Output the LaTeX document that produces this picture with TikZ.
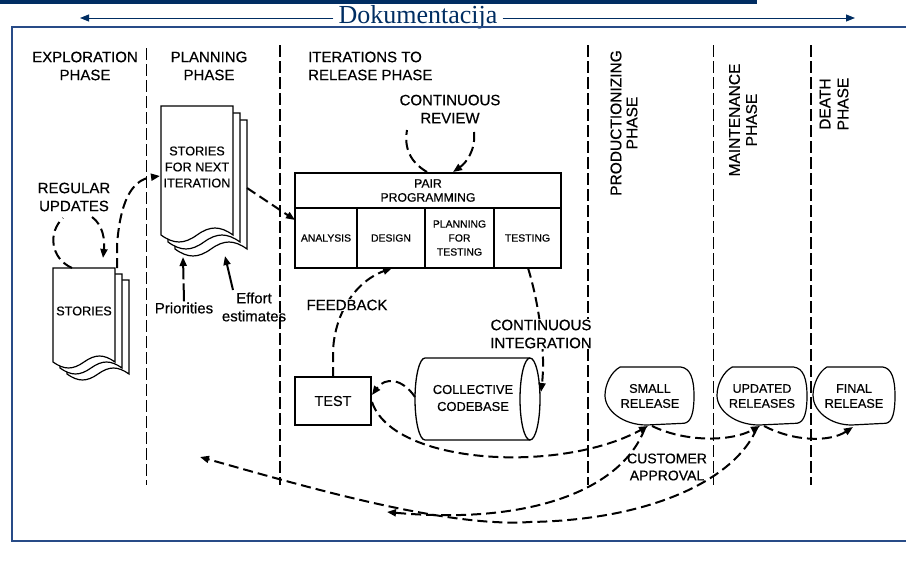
\documentclass[tikz,border=0pt]{standalone}
\usepackage{fontspec}
\setmainfont{Liberation Serif}
\setsansfont{Liberation Sans}[FakeBold=0.5]
\usetikzlibrary{arrows.meta}

\definecolor{navy}{RGB}{0,45,98}
\definecolor{framecol}{RGB}{40,75,135}

% one sheet of a document stack: x0, y0, width, height, wave amplitude
\newcommand\docpage[5]{%
  \filldraw[fill=white, draw=black, line width=1.2pt]
    (#1,#2) -- ({#1+#3},#2) -- ({#1+#3},{#2+#4})
    .. controls ({#1+0.82*#3},{#2+#4-1.33*#5}) and ({#1+0.68*#3},{#2+#4-1.33*#5}) .. ({#1+0.5*#3},{#2+#4})
    .. controls ({#1+0.32*#3},{#2+#4+1.33*#5}) and ({#1+0.18*#3},{#2+#4+1.33*#5}) .. (#1,{#2+#4}) -- cycle;}

% release blob: x0, y0, width, height
\newcommand\releaseblob[4]{%
  \filldraw[fill=white, draw=black, line width=1.2pt]
    ({#1+0.17*#3},#2) -- ({#1+0.85*#3},#2)
    .. controls ({#1+0.96*#3},{#2+0.02*#4}) and ({#1+#3},{#2+0.2*#4}) .. ({#1+#3},{#2+0.5*#4})
    .. controls ({#1+#3},{#2+0.78*#4}) and ({#1+0.97*#3},{#2+0.95*#4}) .. ({#1+0.89*#3},{#2+0.97*#4})
    -- ({#1+0.47*#3},{#2+#4})
    .. controls ({#1+0.2*#3},{#2+#4}) and (#1,{#2+0.75*#4}) .. (#1,{#2+0.49*#4})
    .. controls (#1,{#2+0.3*#4}) and ({#1+0.07*#3},{#2+0.08*#4}) .. ({#1+0.17*#3},#2) -- cycle;}

\begin{document}
\begin{tikzpicture}[x=1pt,y=-1pt,
  lbl/.style={font=\sffamily\fontsize{15}{18}\selectfont, align=center, inner sep=1pt},
  doctext/.style={font=\sffamily\fontsize{12.7}{16}\selectfont, align=center, inner sep=0pt},
  cell/.style={draw, line width=1.6pt, outer sep=0pt, font=\sffamily\fontsize{10.4}{14}\selectfont,
               align=center, inner sep=0pt, anchor=north west, minimum height=60pt},
  thin div/.style={line width=1pt, dash pattern=on 12pt off 4pt},
  thick div/.style={line width=2.2pt, dash pattern=on 12pt off 4pt},
  flow/.style={line width=2pt, dash pattern=on 10pt off 5pt, -{Triangle[length=9pt,width=7pt]}},
  solidflow/.style={line width=2pt, -{Triangle[length=9pt,width=7pt]}},
  navyarrow/.style={navy, line width=1pt, -{Triangle[length=9pt,width=7pt]}},
  blank/.style={fill=white}]
\useasboundingbox (0,0) rectangle (906,565);

% header bar and documentation span
\fill[navy] (0,0) rectangle (757,4);
\node[font=\fontsize{26}{28}\selectfont, text=navy, inner xsep=5pt, inner ysep=2pt] (dok) at (418,17) {Dokumentacija};
\coordinate (dokL) at (80,18);
\coordinate (dokR) at (855,18);
\draw[navyarrow] (dok.west |- dokL) -- (dokL);
\draw[navyarrow] (dok.east |- dokR) -- (dokR);

% frame
\draw[framecol, line width=1.3pt] (906,27) -- (12,27) -- (12,541) -- (906,541);

% phase dividers
\draw[thin div]  (146,48) -- (146,485);
\draw[thick div] (280,45) -- (280,485);
\draw[thick div] (588,45) -- (588,485);
\draw[thin div]  (713,45) -- (713,485);
\draw[thick div] (811,45) -- (811,485);

% phase titles
\node[lbl] (ph1) at (85,66) {EXPLORATION\\PHASE};
\node[lbl] (ph2) at (209,66) {PLANNING\\PHASE};
\node[lbl, align=left, anchor=west] (ph3) at (307,66) {ITERATIONS TO\\RELEASE PHASE};
\node[lbl, rotate=90, font=\sffamily\fontsize{15.5}{16}\selectfont] (ph4) at (624,123) {PRODUCTIONIZING\\PHASE};
\node[lbl, rotate=90, font=\sffamily\fontsize{15.5}{17}\selectfont] (ph5) at (743,120) {MAINTENANCE\\PHASE};
\node[lbl, rotate=90, font=\sffamily\fontsize{15.5}{18}\selectfont] (ph6) at (834,104) {DEATH\\PHASE};

% story stacks
\docpage{67}{280}{62}{94}{6}
\docpage{60}{274}{62}{94}{6}
\docpage{53}{268}{62}{94}{6}
\node[doctext] (stories) at (84,311) {STORIES};

\docpage{175}{120}{72}{129}{7}
\docpage{168}{113}{72}{129}{7}
\docpage{161}{106}{72}{129}{7}
\node[doctext] (nextit) at (197,167) {STORIES\\FOR NEXT\\ITERATION};

% pair programming block
\node[cell, minimum width=266pt, minimum height=35pt, font=\sffamily\fontsize{12.2}{14}\selectfont] (pp) at (295,173) {PAIR\\PROGRAMMING};
\node[cell, minimum width=62pt] (analysis) at (295,208) {ANALYSIS};
\node[cell, minimum width=68pt] (design) at (357,208) {DESIGN};
\node[cell, minimum width=69pt] (pft) at (425,208) {PLANNING\\FOR\\TESTING};
\node[cell, minimum width=67pt] (testing) at (494,208) {TESTING};

% test box
\node[draw, line width=1.5pt, outer sep=0pt, minimum width=76pt, minimum height=48pt,
      font=\sffamily\fontsize{14.4}{17}\selectfont] (test) at (333,401) {TEST};

% collective codebase cylinder
\filldraw[fill=white, line width=1.3pt] (425,358) -- (530,358)
  arc[start angle=-90, end angle=90, x radius=10, y radius=41] -- (425,440)
  arc[start angle=90, end angle=270, x radius=10, y radius=41] -- cycle;
\draw[line width=1.3pt] (530,358) arc[start angle=-90, end angle=-270, x radius=10, y radius=41];
\node[doctext, font=\sffamily\fontsize{12.9}{17}\selectfont] (cb) at (473,398) {COLLECTIVE\\CODEBASE};
\coordinate (cbW) at (415,397);
\coordinate (cbE) at (541,392);

% releases
\releaseblob{605}{367}{89}{58}
\node[doctext, font=\sffamily\fontsize{12.7}{15}\selectfont] (small) at (650,396) {SMALL\\RELEASE};
\releaseblob{717}{367}{90}{58}
\node[doctext, font=\sffamily\fontsize{12.5}{15}\selectfont] (upd) at (762,396) {UPDATED\\RELEASES};
\releaseblob{813}{367}{82}{58}
\node[doctext, font=\sffamily\fontsize{12.7}{15}\selectfont] (final) at (854,396) {FINAL\\RELEASE};

% connector end points
\coordinate (storiesTopL) at (72,268);
\coordinate (storiesIn) at (103,258);
\coordinate (storiesTopR) at (117,268);
\coordinate (nextIn) at (160,176);
\coordinate (nextOut) at (247,188);
\coordinate (ppIn) at (295,220);
\coordinate (revOut) at (427,172);
\coordinate (revIn) at (453,172);
\coordinate (testTop) at (333,377);
\coordinate (designIn) at (392,268);
\coordinate (testingOut) at (528,268);
\coordinate (testE) at (372,395);
\coordinate (testOut) at (372,402);
\coordinate (smallB) at (648,426);
\coordinate (smallOut) at (652,426);
\coordinate (updB) at (760,426);
\coordinate (updOut) at (764,426);
\coordinate (finalB) at (853,427);
\coordinate (smallBack) at (645,428);
\coordinate (updBack) at (757,428);
\coordinate (backTip) at (387,512);
\coordinate (planTip) at (200,457);
\coordinate (prioIn) at (183,257);
\coordinate (effortIn) at (225,256);

% regular updates loop
\draw[flow] (storiesTopL) .. controls (50,258) and (48,232) .. (63,218)
            (92,217) .. controls (103,225) and (105,240) .. (storiesIn);
\node[lbl] (regupd) at (74,197) {REGULAR\\UPDATES};

% stories to next iteration
\draw[flow] (storiesTopR) -- (117,245) .. controls (120,205) and (130,180) .. (nextIn);
% next iteration to pair programming
\draw[flow] (nextOut) -- (ppIn);

% priorities and effort estimates
\node[lbl] (prio) at (184,308) {Priorities};
\node[lbl] (effort) at (254,307) {Effort\\estimates};
\draw[flow, dash pattern=on 18pt off 4pt] (prio.north) -- (prioIn);
\draw[solidflow] (233,290) -- (effortIn);

% continuous review loop
\draw[flow] (revOut) .. controls (410,162) and (404,148) .. (407,130)
            (474,132) .. controls (476,150) and (466,163) .. (revIn);
\node[lbl] (review) at (450,109) {CONTINUOUS\\REVIEW};

% feedback
\draw[flow] (testTop) -- (333,352) .. controls (334,318) and (352,283) .. (designIn);
\node[lbl, blank] (feedback) at (347,305) {FEEDBACK};

% continuous integration
\draw[flow] (testingOut) .. controls (538,300) and (546,350) .. (cbE);
\node[lbl, blank] (ci) at (541,334) {CONTINUOUS\\INTEGRATION};

% codebase back to test
\draw[flow] (cbW) .. controls (402,378) and (385,377) .. (testE);

% test to small release, and release to release
\draw[flow] (testOut) .. controls (393,465) and (560,474) .. (smallB);
\draw[flow] (smallOut) .. controls (685,442) and (730,442) .. (updB);
\draw[flow] (updOut) .. controls (795,442) and (830,442) .. (finalB);

% customer approval returns
\draw[flow] (smallBack) .. controls (622,490) and (530,525) .. (backTip);
\draw[flow] (updBack) .. controls (735,480) and (650,520) .. (530,522)
            .. controls (445,528) and (300,485) .. (planTip);
\node[lbl, font=\sffamily\fontsize{14}{17}\selectfont] (approval) at (667,467) {CUSTOMER\\APPROVAL};

\end{tikzpicture}
\end{document}
